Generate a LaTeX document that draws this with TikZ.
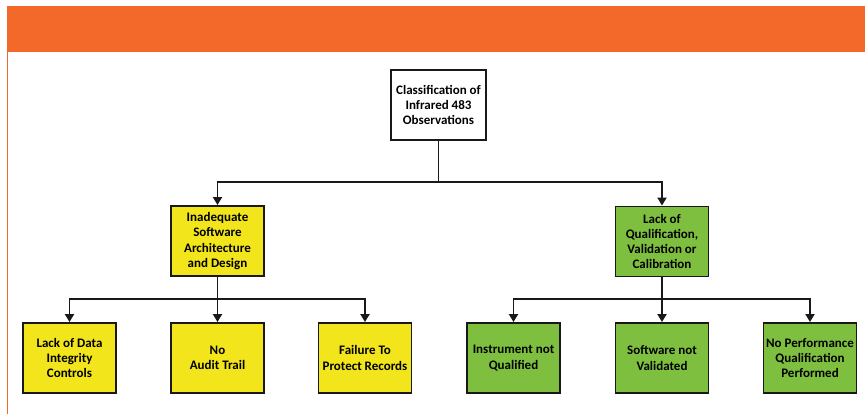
\documentclass[tikz,border=0pt]{standalone}
\usepackage{fontspec}
\setmainfont{Carlito}
\usetikzlibrary{arrows.meta}
\definecolor{bandorange}{HTML}{F2692A}
\definecolor{boxyellow}{HTML}{F2E51C}
\definecolor{boxgreen}{HTML}{7FBF40}
\tikzset{
  box/.style={draw=black!90, line width=1.9pt, minimum width=93pt, minimum height=70pt,
    align=center, inner sep=1pt, font=\fontsize{13}{15.3}\selectfont\bfseries, text=black},
  topbox/.style={box, fill=white, minimum width=95pt},
  ybox/.style={box, fill=boxyellow},
  gbox/.style={box, fill=boxgreen},
  arr/.style={line width=1.9pt, draw=black!90, -{Triangle[width=9pt,length=8pt]}},
  conn/.style={line width=1.9pt, draw=black!90},
}
\begin{document}
\begin{tikzpicture}[x=1pt,y=1pt]
\useasboundingbox (0,0) rectangle (865,414);
\fill[white] (0,0) rectangle (865,414);
% orange band and left rule
\fill[bandorange] (7,414-6) rectangle (865,414-52);
\draw[bandorange, line width=1.2pt] (7.5,414-52) -- (7.5,0);

% nodes
\node[topbox] (top) at (438.5,414-105) {Classification of\\Infrared 483\\Observations};
\node[ybox] (yel) at (217.5,414-241) {Inadequate\\Software\\Architecture\\and Design};
\node[gbox] (grn) at (662,414-241.5) {Lack of\\Qualification,\\Validation or\\Calibration};

\node[ybox] (a1) at (69.5,414-358) {Lack of Data\\Integrity\\Controls};
\node[ybox] (a2) at (217.5,414-358) {No\\Audit Trail};
\node[ybox] (a3) at (365,414-358) {Failure To\\Protect Records};
\node[gbox] (b1) at (513.5,414-358) {Instrument not\\Qualified};
\node[gbox] (b2) at (662,414-358) {Software not\\Validated};
\node[gbox] (b3) at (810,414-358) {No Performance\\Qualification\\Performed};

% junctions
\coordinate (j0) at (438.5,414-182);
\coordinate (ja) at (217.5,414-299);
\coordinate (jb) at (662,414-299);

% connectors
\draw[conn] (top.south) -- (j0);
\draw[arr] (j0) -| (yel.north);
\draw[arr] (j0) -| (grn.north);

\draw[conn] (yel.south) -- (ja);
\draw[arr] (ja) -| (a1.north);
\draw[arr] (ja) -- (a2.north);
\draw[arr] (ja) -| (a3.north);

\draw[conn] (grn.south) -- (jb);
\draw[arr] (jb) -| (b1.north);
\draw[arr] (jb) -- (b2.north);
\draw[arr] (jb) -| (b3.north);
\end{tikzpicture}
\end{document}
